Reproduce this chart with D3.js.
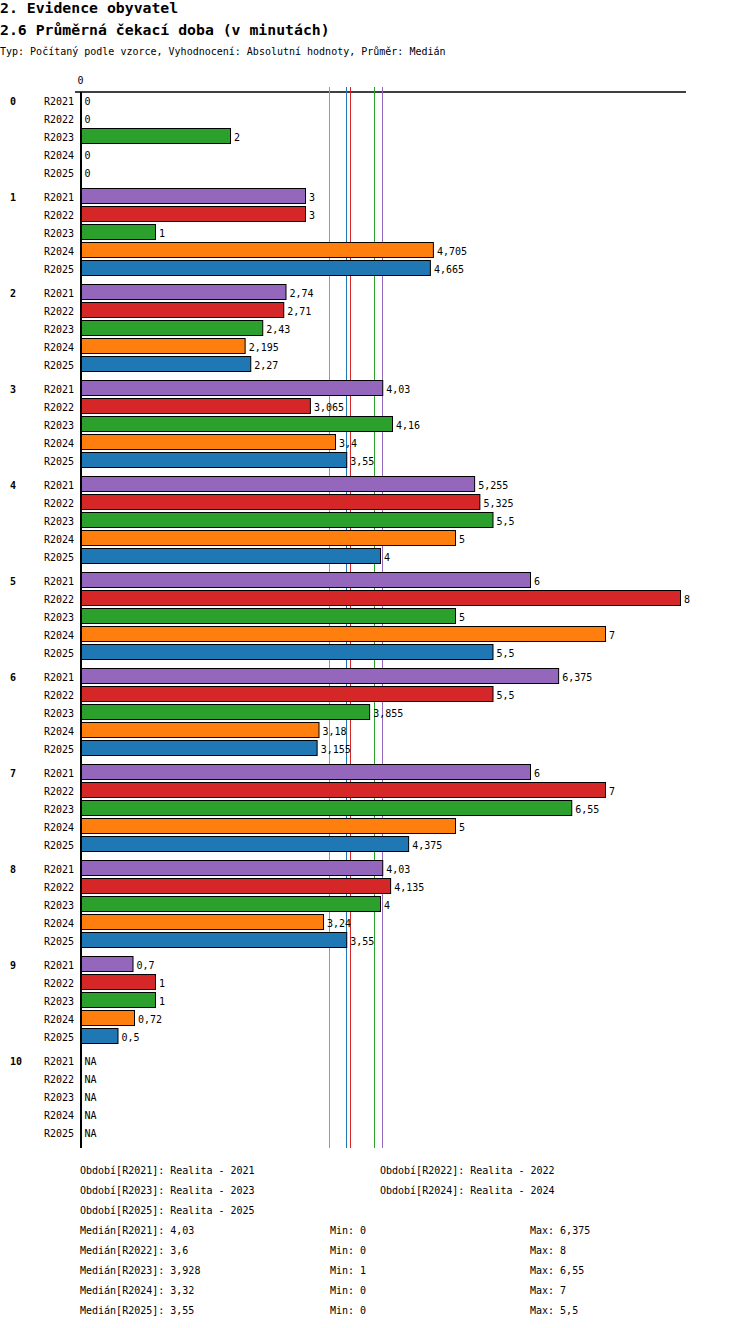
<!DOCTYPE html>
<html>
<head>
<meta charset="utf-8">
<script src="https://cdn.jsdelivr.net/npm/d3@7.9.0/dist/d3.min.js"></script>
<style>
  body { margin: 0; background: #fff; }
  svg text { font-family: "DejaVu Sans Mono", monospace; fill: #000; }
</style>
</head>
<body>
<svg id="chart" width="750" height="1328"></svg>
<script>
// data
const groups = ["0", "1", "2", "3", "4", "5", "6", "7", "8", "9", "10"];
const series = ["R2021", "R2022", "R2023", "R2024", "R2025"];
const seriesNames = ["Realita - 2021", "Realita - 2022", "Realita - 2023", "Realita - 2024", "Realita - 2025"];
const colors = ["#9467bd", "#d62728", "#2ca02c", "#ff7f0e", "#1f77b4"];

// one array per group, values for R2021..R2025 (null = NA)
const values = [
  [0, 0, 2, 0, 0],
  [3, 3, 1, 4.705, 4.665],
  [2.74, 2.71, 2.43, 2.195, 2.27],
  [4.03, 3.065, 4.16, 3.4, 3.55],
  [5.255, 5.325, 5.5, 5, 4],
  [6, 8, 5, 7, 5.5],
  [6.375, 5.5, 3.855, 3.18, 3.155],
  [6, 7, 6.55, 5, 4.375],
  [4.03, 4.135, 4, 3.24, 3.55],
  [0.7, 1, 1, 0.72, 0.5],
  [null, null, null, null, null]
];

const medians = [4.03, 3.6, 3.928, 3.32, 3.55];
const mins = [0, 0, 1, 0, 0];
const maxs = [6.375, 8, 6.55, 7, 5.5];

const fmt = (v) => String(v).replace(".", ",");

const svg = d3.select("#chart");

// titles
svg.append("text").attr("x", 0).attr("y", 13)
  .style("font-size", "14.8px").style("font-weight", "bold")
  .text("2. Evidence obyvatel");
svg.append("text").attr("x", 0).attr("y", 35)
  .style("font-size", "14.8px").style("font-weight", "bold")
  .text("2.6 Průměrná čekací doba (v minutách)");
svg.append("text").attr("x", 0).attr("y", 55)
  .style("font-size", "10px")
  .text("Typ: Počítaný podle vzorce, Vyhodnocení: Absolutní hodnoty, Průměr: Medián");

// scales
const x = d3.scaleLinear().domain([0, 8]).range([80, 680]);
const y0 = d3.scaleBand().domain(groups).range([92, 1148]);
const y1 = d3.scaleBand().domain(series).range([0, 90]);
const color = d3.scaleOrdinal().domain(series).range(colors);

// top axis
svg.append("line")
  .attr("x1", 75).attr("x2", 686)
  .attr("y1", 92).attr("y2", 92)
  .attr("stroke", "#000").attr("stroke-width", 1.5);
svg.append("text").attr("x", x(0) + 0.5).attr("y", 84)
  .attr("text-anchor", "middle").style("font-size", "10px")
  .text("0");

// median lines
svg.selectAll(".median")
  .data(medians)
  .join("line")
  .attr("class", "median")
  .attr("x1", (d) => Math.floor(x(d)) + 0.5)
  .attr("x2", (d) => Math.floor(x(d)) + 0.5)
  .attr("y1", 87).attr("y2", 1148)
  .attr("stroke", (d, i) => colors[i]).attr("stroke-width", 1);

// groups
const g = svg.selectAll(".group")
  .data(groups)
  .join("g")
  .attr("class", "group")
  .attr("transform", (d) => `translate(0,${y0(d)})`);

g.append("text")
  .attr("x", 10).attr("y", y1(series[0]) + 13)
  .style("font-size", "10px").style("font-weight", "bold")
  .text((d) => d);

const rows = g.selectAll(".row")
  .data((d, gi) => series.map((s, si) => ({ s, v: values[gi][si] })))
  .join("g")
  .attr("class", "row")
  .attr("transform", (d) => `translate(0,${y1(d.s)})`);

rows.append("text")
  .attr("x", 74).attr("y", 13)
  .attr("text-anchor", "end").style("font-size", "10px")
  .text((d) => d.s);

rows.filter((d) => d.v !== null && d.v > 0)
  .append("rect")
  .attr("x", x(0) + 1.5)
  .attr("y", 0.5)
  .attr("width", (d) => x(d.v) - x(0) - 1)
  .attr("height", y1.bandwidth() - 3)
  .attr("fill", (d) => color(d.s))
  .attr("stroke", "#000").attr("stroke-width", 1);

rows.append("text")
  .attr("x", (d) => (d.v ? x(d.v) + 4 : x(0) + 4.5))
  .attr("y", 13)
  .style("font-size", "10px")
  .text((d) => (d.v === null ? "NA" : fmt(d.v)));

// vertical axis
svg.append("line")
  .attr("x1", 81).attr("x2", 81)
  .attr("y1", 92).attr("y2", 1148)
  .attr("stroke", "#000").attr("stroke-width", 2);

// footer legend
const foot = svg.append("g").style("font-size", "10px");
series.forEach((s, i) => {
  foot.append("text")
    .attr("x", i % 2 === 0 ? 80 : 380)
    .attr("y", 1174 + Math.floor(i / 2) * 20)
    .text(`Období[${s}]: ${seriesNames[i]}`);
});
series.forEach((s, i) => {
  const yy = 1234 + i * 20;
  foot.append("text").attr("x", 80).attr("y", yy).text(`Medián[${s}]: ${fmt(medians[i])}`);
  foot.append("text").attr("x", 330).attr("y", yy).text(`Min: ${fmt(mins[i])}`);
  foot.append("text").attr("x", 530).attr("y", yy).text(`Max: ${fmt(maxs[i])}`);
});
</script>
</body>
</html>
